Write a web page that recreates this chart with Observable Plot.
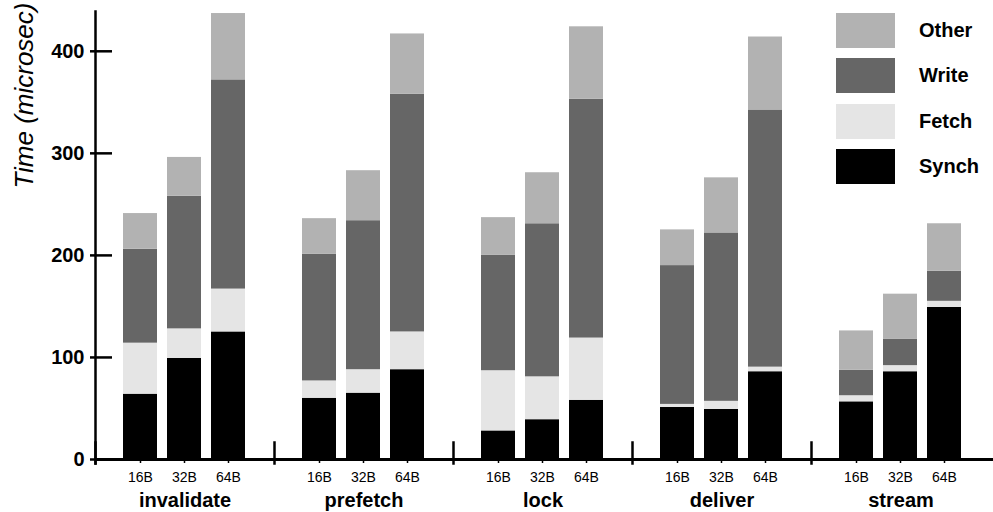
<!DOCTYPE html>
<html>
<head>
<meta charset="utf-8">
<script src="https://cdn.jsdelivr.net/npm/d3@7"></script>
<script src="https://cdn.jsdelivr.net/npm/@observablehq/plot@0.6"></script>
<style>
  html, body { margin: 0; padding: 0; background: #fff; }
  #chart { position: relative; width: 993px; height: 512px; font-family: "Liberation Sans", Arial, sans-serif; }
  #chart svg { display: block; }
  .legend { position: absolute; left: 836px; top: 13px; }
  .legend .row { display: flex; align-items: center; height: 35px; margin-bottom: 10.3px; }
  .legend .swatch { width: 59px; height: 35px; }
  .legend .name { margin-left: 24px; font-size: 20px; font-weight: bold; color: #000; }
</style>
</head>
<body>
<div id="chart"></div>
<script>
// Benchmarks (facets) and block sizes (bars within each facet)
const groups = ["invalidate", "prefetch", "lock", "deliver", "stream"];
const sizes = ["16B", "32B", "64B"];

// Time components, stacked bottom to top
const series = ["Synch", "Fetch", "Write", "Other"];
const colors = ["#000000", "#e5e5e5", "#666666", "#b2b2b2"];

// Values in microseconds, ordered group by group, 16B / 32B / 64B
const synch = [64, 99, 125, 60, 65, 88, 28, 39, 58, 51, 49, 86, 56.5, 86, 149];
const fetch = [50, 29, 42, 17, 23, 37, 59, 42, 61, 3, 8, 4.5, 6, 6, 6];
const write = [92, 130, 205, 124, 146, 233, 113, 150, 234, 136, 165, 252, 25, 26, 29.5];
const other = [35, 38, 65, 35, 49, 59, 37, 50, 71, 35, 54, 71.5, 38.5, 44, 46.5];

const yTicks = [0, 100, 200, 300, 400];
const yLabel = "Time (microsec)";

const columns = [synch, fetch, write, other];
const rows = [];
groups.forEach((g, gi) => {
  sizes.forEach((s, si) => {
    const k = gi * sizes.length + si;
    series.forEach((name, ci) => {
      rows.push({group: g, size: s, series: name, value: columns[ci][k]});
    });
  });
});

const chart = Plot.plot({
  width: 993,
  height: 512,
  marginLeft: 95,
  marginRight: 3,
  marginTop: 11,
  marginBottom: 53,
  style: {fontFamily: "'Liberation Sans', Arial, sans-serif", background: "white", color: "black"},
  fx: {domain: groups, padding: 0},
  x: {domain: sizes, paddingInner: 0.218, paddingOuter: 0.609},
  y: {domain: [0, 439]},
  color: {domain: series, range: colors},
  marks: [
    Plot.barY(rows, {
      fx: "group",
      x: "size",
      y: "value",
      fill: "series",
      z: "series",
      order: series
    }),
    // y axis line (first facet only) and short group separators
    Plot.frame({anchor: "left", insetBottom: -4, strokeWidth: 2.5, facetAnchor: "left"}),
    Plot.frame({anchor: "left", insetTop: 431, insetBottom: -4, strokeWidth: 2.5}),
    // x axis baseline
    Plot.ruleY([0], {strokeWidth: 3, insetRight: -3}),
    // y ticks reaching into the plot
    Plot.tickY(yTicks, {y: (d) => d, strokeWidth: 2.5, insetRight: 162, facetAnchor: "left"}),
    Plot.axisY({
      ticks: yTicks,
      tickSize: 5,
      tickPadding: 6,
      strokeWidth: 2.5,
      fontSize: 20,
      fontWeight: "bold",
      label: null
    }),
    Plot.axisX({tickSize: 4, tickPadding: 9, strokeWidth: 1.5, fontSize: 14, label: null}),
    Plot.axisFx({anchor: "bottom", tickSize: 0, tickPadding: 33, fontSize: 20, fontWeight: "bold", label: null}),
    Plot.text([yLabel], {
      frameAnchor: "top-left",
      rotate: -90,
      textAnchor: "end",
      dx: -81,
      dy: -9,
      fontSize: 26,
      fontStyle: "italic",
      facetAnchor: "left"
    })
  ]
});

const root = document.getElementById("chart");
root.appendChild(chart);

// Legend, top item first
const legend = document.createElement("div");
legend.className = "legend";
series.slice().reverse().forEach((name) => {
  const row = document.createElement("div");
  row.className = "row";
  const sw = document.createElement("div");
  sw.className = "swatch";
  sw.style.background = colors[series.indexOf(name)];
  const label = document.createElement("span");
  label.className = "name";
  label.textContent = name;
  row.appendChild(sw);
  row.appendChild(label);
  legend.appendChild(row);
});
root.appendChild(legend);
</script>
</body>
</html>
